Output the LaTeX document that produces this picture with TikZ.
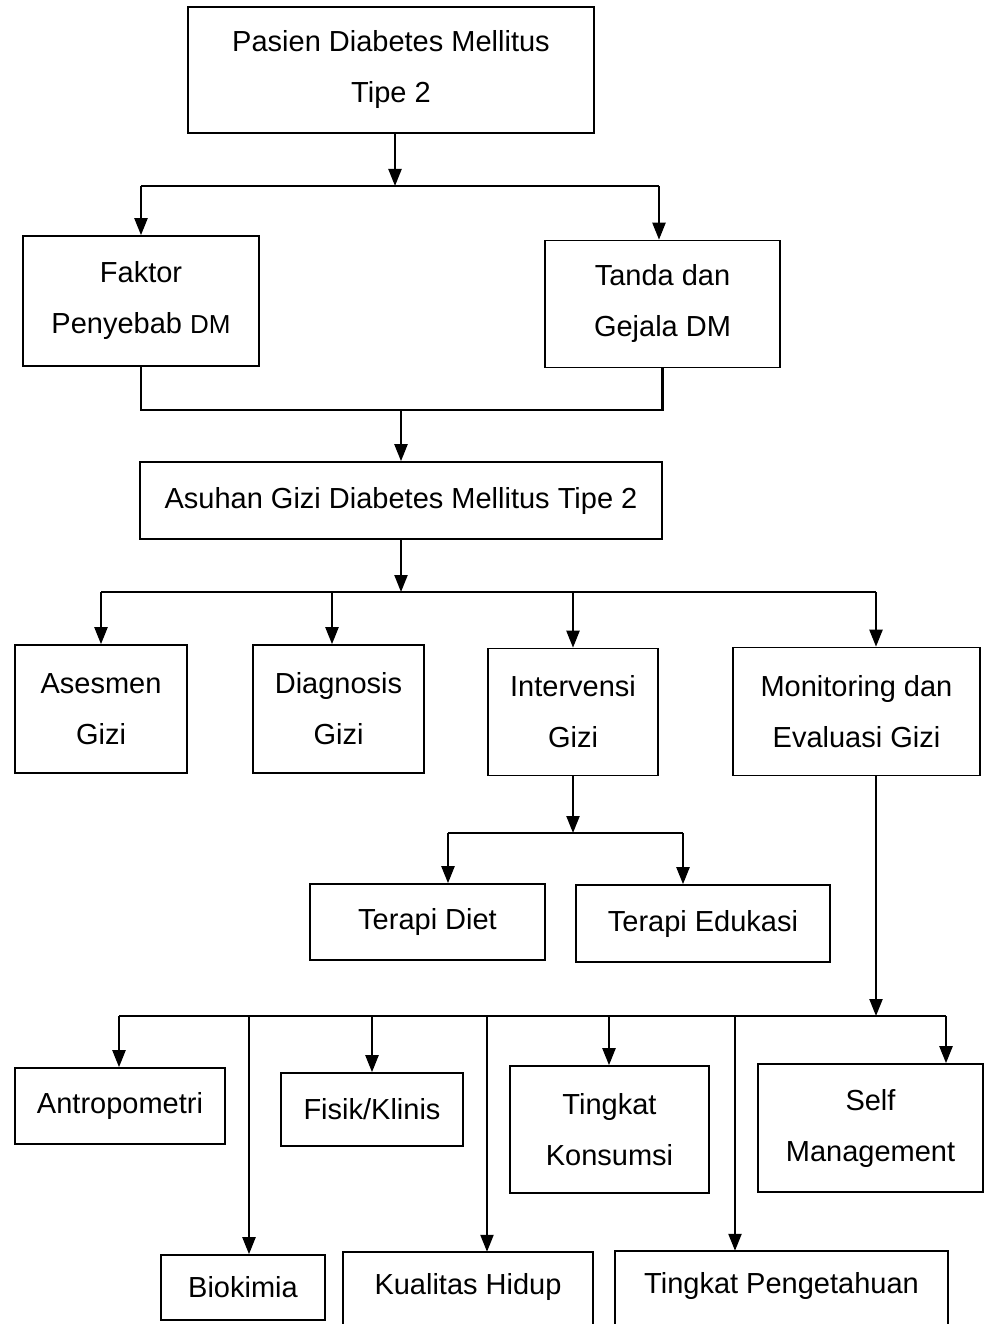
\documentclass[tikz,border=0pt]{standalone}
\usepackage{fontspec}
\setmainfont{Liberation Sans}
\usetikzlibrary{arrows.meta}
\begin{document}
\begin{tikzpicture}[x=1pt,y=-1pt,
  box/.style={draw, line width=1.6pt, inner sep=0pt, align=center,
    font=\fontsize{29}{51}\selectfont},
  txt/.style={inner sep=0pt, align=center, font=\fontsize{29}{51}\selectfont},
  conn/.style={line width=2.2pt},
  arr/.style={line width=2.2pt, -{Triangle[length=17pt,width=13pt]}},
  boxline/.style={line width=1.6pt}]
\useasboundingbox (0,0) rectangle (984,1324);

% boxes
\node[box, minimum width=406pt, minimum height=126pt] (top) at (391,70) {Pasien Diabetes Mellitus\\Tipe 2};
\node[box, minimum width=236pt, minimum height=130pt] (fak) at (141,301) {Faktor\\Penyebab {\fontsize{26}{51}\selectfont DM}};
\node[box, minimum width=235pt, minimum height=127pt] (tan) at (662.5,304) {Tanda dan\\Gejala DM};
\node[box, minimum width=522pt, minimum height=77pt] (asu) at (401,500.5) {Asuhan Gizi Diabetes Mellitus Tipe 2};
\node[box, minimum width=172pt, minimum height=128pt] (ase) at (101,709) {Asesmen\\Gizi};
\node[box, minimum width=171pt, minimum height=128pt] (dia) at (338.5,709) {Diagnosis\\Gizi};
\node[box, minimum width=170pt, minimum height=127pt] (int) at (573,712) {Intervensi\\Gizi};
\node[box, minimum width=247pt, minimum height=128pt] (mon) at (856.5,711.5) {Monitoring dan\\Evaluasi Gizi};
\node[box, minimum width=235pt, minimum height=76pt] (tdi) at (427.5,922) {Terapi Diet};
\node[box, minimum width=254pt, minimum height=77pt] (ted) at (703,923.5) {Terapi Edukasi};
\node[box, minimum width=210pt, minimum height=76pt] (ant) at (120,1106) {Antropometri};
\node[box, minimum width=182pt, minimum height=73pt] (fis) at (372,1109.5) {Fisik/Klinis};
\node[box, minimum width=199pt, minimum height=127pt] (tko) at (609.5,1129.5) {Tingkat\\Konsumsi};
\node[box, minimum width=225pt, minimum height=128pt] (sel) at (870.5,1128) {Self\\Management};
\node[box, minimum width=164pt, minimum height=65pt] (bio) at (243,1287.5) {Biokimia};
\node[txt, minimum width=250pt, minimum height=70pt] (kua) at (468,1287) {Kualitas Hidup};
\node[txt, minimum width=333pt, minimum height=70pt] (tpe) at (781.5,1286) {Tingkat Pengetahuan};
\draw[boxline] ([yshift=-20pt]kua.south west) |- (kua.north east) -- ([yshift=-20pt]kua.south east);
\draw[boxline] ([yshift=-20pt]tpe.south west) |- (tpe.north east) -- ([yshift=-20pt]tpe.south east);

% level 1
\coordinate (b1L) at (141,186);
\coordinate (b1R) at (659,186);
\draw[conn] (b1L) -- (b1R);
\draw[arr] ([xshift=4pt]top.south) -- ([xshift=4pt]top.south |- b1L);
\draw[arr] (b1L) -- (fak.north);
\draw[arr] (b1R) -- (b1R |- tan.north);

% join
\coordinate (j2) at (401,410);
\draw[conn] (fak.south) |- (tan.south |- j2) -- (tan.south);
\draw[arr] (j2) -- (j2 |- asu.north);

% level 3
\coordinate (j3) at (401,592);
\coordinate (b3L) at (101,592);
\coordinate (b3d) at (332,592);
\coordinate (b3R) at (876,592);
\draw[arr] (asu.south) -- (j3);
\draw[conn] (b3L) -- (b3R);
\draw[arr] (b3L) -- (ase.north);
\draw[arr] (b3d) -- (b3d |- dia.north);
\draw[arr] (int.north |- j3) -- (int.north);
\draw[arr] (b3R) -- (b3R |- mon.north);

% intervensi children
\coordinate (j4) at (573,833);
\coordinate (b4L) at (448,833);
\coordinate (b4R) at (683,833);
\draw[arr] (int.south) -- (j4);
\draw[conn] (b4L) -- (b4R);
\draw[arr] (b4L) -- (b4L |- tdi.north);
\draw[arr] (b4R) -- (b4R |- ted.north);

% monitoring children
\coordinate (j5) at (876,1016);
\coordinate (b5a) at (119,1016);
\coordinate (b5b) at (249,1016);
\coordinate (b5c) at (372,1016);
\coordinate (b5d) at (487,1016);
\coordinate (b5e) at (609,1016);
\coordinate (b5f) at (735,1016);
\coordinate (b5g) at (946,1016);
\draw[arr] (b3R |- mon.south) -- (j5);
\draw[conn] (b5a) -- (b5g);
\draw[arr] (b5a) -- (b5a |- ant.north);
\draw[arr] (b5b) -- (b5b |- bio.north);
\draw[arr] (b5c) -- (b5c |- fis.north);
\draw[arr] (b5d) -- (b5d |- kua.north);
\draw[arr] (b5e) -- (b5e |- tko.north);
\draw[arr] (b5f) -- (b5f |- tpe.north);
\draw[arr] (b5g) -- (b5g |- sel.north);
\end{tikzpicture}
\end{document}
